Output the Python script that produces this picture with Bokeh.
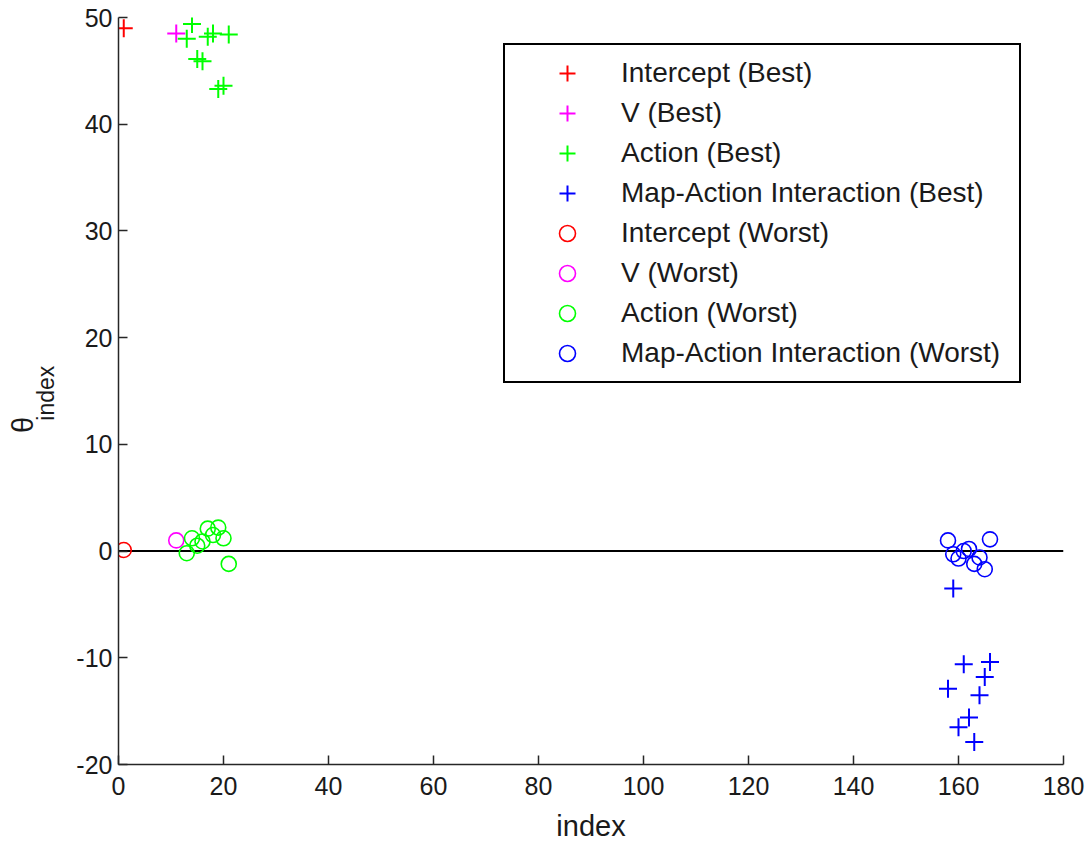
import numpy as np
from bokeh.plotting import figure
from bokeh.layouts import row
from bokeh.models import Legend, LegendItem, FixedTicker, Label, Range1d
from bokeh.embed import file_html
from bokeh.resources import INLINE

# ---- data ----
intercept_idx = [1]
intercept_best = [49.0]
intercept_worst = [0.1]

v_idx = [11]
v_best = [48.5]
v_worst = [1.0]

action_idx = [13, 14, 15, 16, 17, 18, 19, 20, 21]
action_best = [48.0, 49.4, 46.1, 45.9, 48.2, 48.5, 43.3, 43.6, 48.4]
action_worst = [-0.2, 1.2, 0.5, 0.9, 2.1, 1.5, 2.2, 1.2, -1.2]

inter_idx = [158, 159, 160, 161, 162, 163, 164, 165, 166]
inter_best = [-12.9, -3.5, -16.5, -10.6, -15.6, -17.9, -13.5, -11.8, -10.4]
inter_worst = [1.0, -0.3, -0.7, 0.0, 0.2, -1.2, -0.6, -1.7, 1.1]

zero_x = [0, 180]
zero_y = [0, 0]

x_ticks = [0, 20, 40, 60, 80, 100, 120, 140, 160, 180]
y_ticks = [-20, -10, 0, 10, 20, 30, 40, 50]
y_tick_text = ["-20", "-10", "0", "10", "20", "30", "40", "50"]

FONT = "Liberation Sans"
TXT = "#1a1a1a"
LEFT_W = 62

# ---- narrow strip holding the y-axis label (theta with subscript) ----
pl = figure(width=LEFT_W, height=845, output_backend="svg", toolbar_location=None,
            x_range=Range1d(0, LEFT_W), y_range=Range1d(0, 845),
            x_axis_type=None, y_axis_type=None, title=None,
            min_border_left=0, min_border_right=0, min_border_top=0, min_border_bottom=0)
pl.grid.visible = False
pl.outline_line_color = None
pl.background_fill_color = "white"
pl.border_fill_color = "white"
pl.add_layout(Label(x=22, y=384, text="θ", angle=np.pi / 2,
                    text_font=FONT, text_font_size="29px", text_color=TXT,
                    text_align="center", text_baseline="middle"))
pl.add_layout(Label(x=45, y=420, text="index", angle=np.pi / 2,
                    text_font=FONT, text_font_size="23px", text_color=TXT,
                    text_align="center", text_baseline="middle"))

# ---- main plot ----
p = figure(width=1090 - LEFT_W, height=845, output_backend="svg", toolbar_location=None,
           x_range=Range1d(0, 180), y_range=Range1d(-20, 50),
           min_border_left=118 - LEFT_W, min_border_right=27, min_border_top=17, min_border_bottom=81)
p.grid.visible = False
p.outline_line_color = None
p.background_fill_color = "white"
p.border_fill_color = "white"

for ax in (p.xaxis[0], p.yaxis[0]):
    ax.major_tick_in = 9
    ax.major_tick_out = 0
    ax.minor_tick_line_color = None
    ax.axis_line_color = "#262626"
    ax.axis_line_width = 1.5
    ax.major_tick_line_color = "#262626"
    ax.major_tick_line_width = 1.5
    ax.major_label_text_font = FONT
    ax.major_label_text_font_size = "25px"
    ax.major_label_text_color = TXT

p.xaxis.ticker = FixedTicker(ticks=x_ticks)
p.yaxis.ticker = FixedTicker(ticks=y_ticks)
p.yaxis.major_label_overrides = {t: s for t, s in zip(y_ticks, y_tick_text)}
p.xaxis.major_label_standoff = 12
p.yaxis.major_label_standoff = 6
p.xaxis.axis_label = "index"
p.xaxis.axis_label_text_font = FONT
p.xaxis.axis_label_text_font_size = "29px"
p.xaxis.axis_label_text_font_style = "normal"
p.xaxis.axis_label_text_color = TXT
p.xaxis.axis_label_standoff = 12

# zero line
p.line(zero_x, zero_y, line_color="black", line_width=2)

RED, MAG, GRN, BLU = "#ff0000", "#ff00ff", "#00ff00", "#0000ff"
CS, OS = 18, 15

r1 = p.scatter(intercept_idx, intercept_best, marker="cross", size=CS, line_color=RED, line_width=2)
r2 = p.scatter(v_idx, v_best, marker="cross", size=CS, line_color=MAG, line_width=2)
r3 = p.scatter(action_idx, action_best, marker="cross", size=CS, line_color=GRN, line_width=2)
r4 = p.scatter(inter_idx, inter_best, marker="cross", size=CS, line_color=BLU, line_width=2)
r5 = p.scatter(intercept_idx, intercept_worst, marker="circle", size=OS, line_color=RED, fill_color=None, line_width=1.6)
r6 = p.scatter(v_idx, v_worst, marker="circle", size=OS, line_color=MAG, fill_color=None, line_width=1.6)
r7 = p.scatter(action_idx, action_worst, marker="circle", size=OS, line_color=GRN, fill_color=None, line_width=1.6)
r8 = p.scatter(inter_idx, inter_worst, marker="circle", size=OS, line_color=BLU, fill_color=None, line_width=1.6)

labels = ["Intercept (Best)", "V (Best)", "Action (Best)", "Map-Action Interaction (Best)",
          "Intercept (Worst)", "V (Worst)", "Action (Worst)", "Map-Action Interaction (Worst)"]
rends = [r1, r2, r3, r4, r5, r6, r7, r8]
legend = Legend(items=[LegendItem(label=l, renderers=[r]) for l, r in zip(labels, rends)],
                location=(385, 381), orientation="vertical",
                padding=8, spacing=0, glyph_height=40, glyph_width=108, label_height=40,
                label_width=390, label_standoff=0, label_text_font=FONT, label_text_font_size="28px",
                label_text_color=TXT, border_line_color="black", border_line_width=2,
                border_line_alpha=1.0,
                background_fill_color="white", background_fill_alpha=1.0, margin=0)
p.add_layout(legend, "center")

layout = row(pl, p, spacing=0)
open("out.html", "w").write(file_html(layout, INLINE))
